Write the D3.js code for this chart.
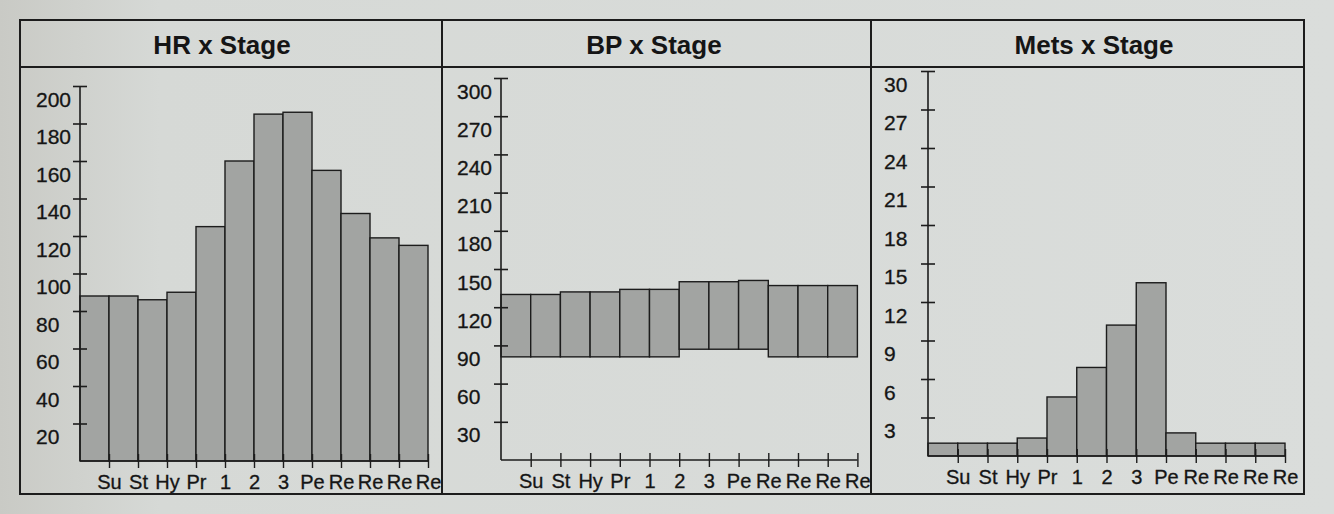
<!DOCTYPE html>
<html>
<head>
<meta charset="utf-8">
<script src="https://cdn.jsdelivr.net/npm/d3@7"></script>
<style>
  html, body { margin: 0; padding: 0; background: #d6d9d6; }
  svg { display: block; }
  text { font-family: "Liberation Sans", Arial, sans-serif; fill: #151515; }
</style>
</head>
<body>
<svg id="chart" width="1334" height="514"></svg>
<script>
// ---- data ----
const stages = ["Su", "St", "Hy", "Pr", "1", "2", "3", "Pe", "Re", "Re", "Re", "Re"];
const hrValues = [88, 88, 86, 90, 125, 160, 185, 186, 155, 132, 119, 115];
const bpSystolic = [130, 130, 132, 132, 134, 134, 140, 140, 141, 137, 137, 137];
const bpDiastolic = [81, 81, 81, 81, 81, 81, 87, 87, 87, 81, 81, 81];
const metsValues = [1.0, 1.0, 1.0, 1.4, 4.6, 6.9, 10.2, 13.5, 1.8, 1.0, 1.0, 1.0];
const hrTicks = [20, 40, 60, 80, 100, 120, 140, 160, 180, 200];
const bpTicks = [30, 60, 90, 120, 150, 180, 210, 240, 270, 300];
const metsTicks = [3, 6, 9, 12, 15, 18, 21, 24, 27, 30];
const titles = ["HR x Stage", "BP x Stage", "Mets x Stage"];

const svg = d3.select("#chart");
const ink = "#1c1c1c";
const barFill = "#a2a4a2";

// paper background with soft lighting
const defs = svg.append("defs");
const grad = defs.append("linearGradient").attr("id", "paper").attr("x1", "0").attr("x2", "1").attr("y1", "0").attr("y2", "0");
grad.append("stop").attr("offset", "0").attr("stop-color", "#c9cac5");
grad.append("stop").attr("offset", "0.12").attr("stop-color", "#d6d9d6");
grad.append("stop").attr("offset", "1").attr("stop-color", "#dadddb");
svg.append("rect").attr("width", 1334).attr("height", 514).attr("fill", "url(#paper)");

// ---- frame ----
const frame = { left: 20, right: 1304, top: 20, sep: 67, bottom: 494, div: [442, 871] };
const fg = svg.append("g").attr("stroke", ink).attr("stroke-width", 2).attr("fill", "none");
fg.append("rect").attr("x", frame.left).attr("y", frame.top)
  .attr("width", frame.right - frame.left).attr("height", frame.bottom - frame.top);
fg.append("line").attr("x1", frame.left).attr("x2", frame.right).attr("y1", frame.sep).attr("y2", frame.sep);
frame.div.forEach(x => fg.append("line").attr("x1", x).attr("x2", x).attr("y1", frame.top).attr("y2", frame.bottom));

// ---- panels ----
const panels = [
  { title: titles[0], titleX: 222, axisX: 80, barW: 29.0, yTop: 86, yBase: 461, max: 200, ticks: hrTicks,
    lo: hrValues.map(() => 0), hi: hrValues },
  { title: titles[1], titleX: 654, axisX: 501, barW: 29.7, yTop: 78, yBase: 460, max: 300, ticks: bpTicks,
    lo: bpDiastolic, hi: bpSystolic },
  { title: titles[2], titleX: 1094, axisX: 928, barW: 29.75, yTop: 71, yBase: 456, max: 30, ticks: metsTicks,
    lo: metsValues.map(() => 0), hi: metsValues }
];

panels.forEach(p => {
  svg.append("text").attr("x", p.titleX).attr("y", 54).attr("text-anchor", "middle")
    .attr("font-size", 26).attr("font-weight", "bold").text(p.title);

  const x = d3.scaleLinear().domain([0, stages.length]).range([p.axisX, p.axisX + p.barW * stages.length]);
  const y = d3.scaleLinear().domain([0, p.max]).range([p.yBase, p.yTop]);
  const g = svg.append("g");

  // bars (floating for BP)
  g.selectAll("rect.bar").data(stages.map((s, i) => i)).join("rect")
    .attr("class", "bar")
    .attr("x", i => x(i))
    .attr("width", i => x(i + 1) - x(i))
    .attr("y", i => y(p.hi[i]))
    .attr("height", i => y(p.lo[i]) - y(p.hi[i]))
    .attr("fill", barFill)
    .attr("stroke", ink).attr("stroke-width", 1.4);

  // y axis
  const ya = g.append("g").attr("transform", `translate(${p.axisX},0)`)
    .call(d3.axisLeft(y).tickValues(p.ticks).tickSizeOuter(0).tickSize(7).tickFormat(d3.format("d")));
  ya.select(".domain").attr("d", `M0,${y(0)}V${y(p.max)}`).attr("stroke", ink).attr("stroke-width", 1.6);
  ya.selectAll(".tick line").attr("x1", -7).attr("x2", 7).attr("stroke", ink).attr("stroke-width", 1.6);
  ya.selectAll(".tick text").attr("x", -44).attr("dy", "0.34em").attr("transform", "translate(0,13)")
    .attr("text-anchor", "start").attr("font-size", 21).attr("fill", "#151515")
    .attr("stroke", "#151515").attr("stroke-width", 0.3)
    .attr("font-family", "Liberation Sans, Arial, sans-serif");

  // x axis
  const xa = g.append("g").attr("transform", `translate(0,${p.yBase})`)
    .call(d3.axisBottom(x).tickValues(d3.range(1, stages.length + 1)).tickSizeOuter(0).tickSize(7)
      .tickFormat(i => stages[i - 1]));
  xa.select(".domain").attr("d", `M${x(0)},0H${x(stages.length)}`).attr("stroke", ink).attr("stroke-width", 1.6);
  xa.selectAll(".tick line").attr("y1", -7).attr("y2", 7).attr("stroke", ink).attr("stroke-width", 1.4);
  xa.selectAll(".tick text").attr("y", 28).attr("dy", 0).attr("font-size", 20).attr("fill", "#151515")
    .attr("stroke", "#151515").attr("stroke-width", 0.3)
    .attr("font-family", "Liberation Sans, Arial, sans-serif");
});
</script>
</body>
</html>
